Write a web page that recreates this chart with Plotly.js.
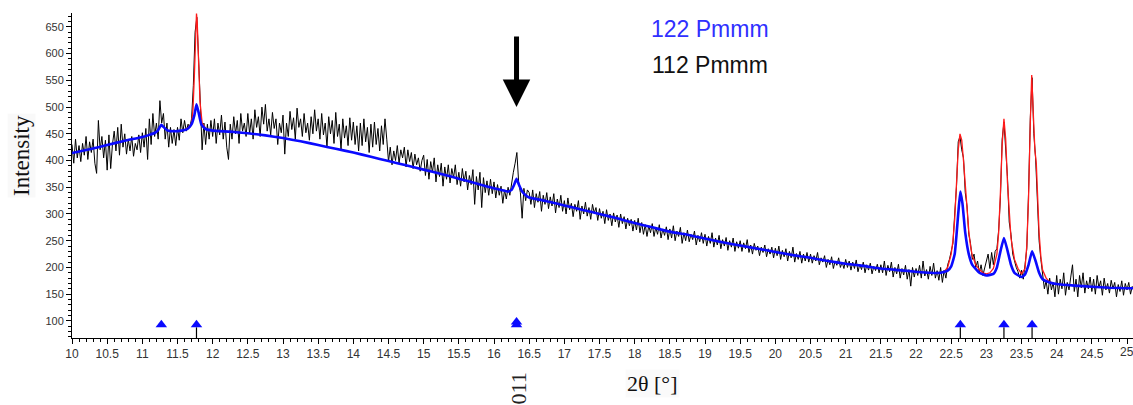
<!DOCTYPE html>
<html>
<head>
<meta charset="utf-8">
<script src="https://cdn.plot.ly/plotly-3.0.1.min.js"></script>
<style>html,body{margin:0;padding:0;background:#fff;}#chart{width:1133px;height:405px;}</style>
</head>
<body>
<div id="chart"></div>
<script>
// Observed pattern, sampled every 0.025 deg from 10.000
const obsStart = 10.0;
const obsStep = 0.025;
const obsIntensity = [
430,395,440,405,428,398,432,410,445,402,435,415,440,395,376,475,420,445,405,438,
382,448,385,430,455,418,462,410,468,425,450,412,440,418,445,408,432,420,448,415,
452,425,460,402,478,430,488,445,470,440,512,470,488,440,470,425,462,432,458,428,
462,438,478,452,475,455,468,462,478,540,640,668,590,505,420,470,430,468,440,475,
445,478,432,470,448,485,440,472,425,402,468,440,482,450,475,432,488,455,470,445,
488,450,478,440,495,462,482,445,500,468,505,455,478,448,490,460,478,430,470,452,
485,412,470,445,492,458,480,440,498,462,478,445,488,452,470,438,482,450,495,455,
478,440,488,448,470,425,482,450,475,432,490,445,468,420,478,442,465,428,480,438,
472,430,465,418,470,428,478,435,462,415,468,425,472,430,460,418,465,430,478,440,
398,425,392,418,400,428,395,420,405,425,388,420,398,415,385,412,392,405,380,400,
410,372,402,365,398,378,405,360,392,370,395,352,388,365,392,358,385,368,392,355,
378,352,385,360,380,345,372,355,383,318,370,345,378,312,368,340,362,335,365,338,
360,330,355,335,352,320,345,328,350,335,362,378,395,415,360,340,292,348,325,345,
340,318,345,312,338,322,342,305,335,318,340,310,332,315,338,302,328,312,335,305,
325,300,330,308,320,295,318,305,325,290,315,300,322,296,312,290,318,302,312,288,
310,292,305,282,308,288,300,278,302,285,298,275,300,282,295,272,292,278,290,268,
288,270,292,265,284,262,280,258,278,265,282,258,275,262,280,255,272,260,276,252,
272,255,278,250,268,258,275,245,265,250,270,248,262,252,268,242,260,248,265,245,
262,240,258,245,265,238,255,242,260,235,252,240,256,232,250,238,255,230,248,236,
250,230,246,235,252,228,242,225,245,232,240,222,238,228,242,220,235,225,238,218,
236,222,240,215,232,220,235,212,230,218,238,210,226,215,230,208,225,212,228,210,
225,208,222,212,228,205,218,210,222,200,215,205,220,198,212,204,218,200,210,198,
215,200,212,195,210,198,214,192,206,196,210,190,205,195,208,188,202,194,206,190,
205,190,212,185,204,192,210,182,200,188,206,180,198,186,204,178,196,165,200,182,
198,185,204,180,212,184,196,178,202,185,208,180,194,176,200,172,195,180,205,215,
230,245,300,350,435,445,420,405,340,315,262,245,215,225,200,212,190,205,185,200,
215,225,198,228,205,230,235,270,330,440,472,430,370,285,262,225,212,200,192,180,
195,178,205,235,340,480,555,450,405,340,250,215,185,160,175,150,180,158,172,145,
185,150,178,160,190,148,172,158,182,205,155,178,145,185,162,190,152,175,160,182,
155,178,150,185,162,175,148,180,158,170,152,176,160,172,145,168,155,175,148,170,
158,172,150,165
];

// Calculated profile, phase 122 Pmmm (blue)
const calcX = [10,10.25,10.5,10.75,11.0,11.1,11.18,11.22,11.25,11.27,11.3,11.35,11.4,11.5,11.6,11.65,11.7,11.74,11.77,11.8,11.84,11.9,
12.0,12.25,12.5,12.75,13.0,13.25,13.5,13.75,14.0,14.25,14.5,14.75,15.0,15.25,15.5,15.75,16.0,16.1,16.2,16.25,16.29,16.32,16.35,16.4,16.45,16.5,
16.75,17.0,17.25,17.5,17.75,18.0,18.25,18.5,18.75,19.0,19.25,19.5,19.75,20.0,20.25,20.5,20.75,21.0,21.25,21.5,21.75,22.0,22.2,22.35,22.45,
22.5,22.55,22.6,22.63,22.66,22.7,22.75,22.8,22.9,23.0,23.1,23.15,23.2,23.25,23.3,23.35,23.4,23.5,23.55,23.6,23.65,23.7,23.75,23.8,23.9,
24.0,24.25,24.5,24.75,25.0,25.085];
const calcBlue = [414,421,429,437,444,448,452,456,463,467,463,457,455,455,457,460,468,485,505,490,467,459,
456,454,451,447,442,436,429,422,415,407,399,391,383,375,366,357,348,345,342,345,356,366,356,342,335,331,
324,316,308,300,292,283,275,267,261,254,247,241,235,229,223,218,212,207,203,198,195,192,190,190,194,
202,225,300,342,320,265,225,205,190,185,188,200,230,255,232,205,190,182,187,205,230,212,190,178,172,
169,166,164,162,161,161];

// Calculated total profile (red), shown where it departs from the blue one
const totalX = [11.6,11.65,11.7,11.72,11.74,11.76,11.77,11.78,11.8,11.82,11.85,11.9,11.95,null,
22.4,22.45,22.5,22.525,22.55,22.575,22.6,22.625,22.65,22.675,22.7,22.725,22.75,22.775,22.8,22.85,22.9,22.95,
23.0,23.05,23.1,23.15,23.175,23.2,23.225,23.25,23.275,23.3,23.325,23.35,23.4,23.45,
23.5,23.55,23.575,23.6,23.625,23.645,23.67,23.69,23.71,23.73,23.75,23.775,23.8,23.85,23.9,24.0];
const totalRed = [458,461,470,495,560,650,675,660,580,510,470,460,457,null,
192,200,225,250,290,355,420,450,438,400,350,305,268,240,222,205,196,190,
188,190,198,225,265,340,430,478,440,360,295,255,215,198,
188,198,240,330,470,560,480,420,395,330,265,220,195,180,173,168];

// Reflection positions
const reflX = [11.27,11.77,16.32,16.32,22.63,23.25,23.65];
const reflY = [93,93,93,98,93,93,93];
const stickX = [11.77,22.63,23.25,23.65];
const stickTop = 88;

const legendLabels = ['122 Pmmm','112 Pmmm'];
const yTickVals = [100,150,200,250,300,350,400,450,500,550,600,650];

const obsX = obsIntensity.map((_, i) => +(obsStart + i * obsStep).toFixed(3));
const sx = [], sy = [];
stickX.forEach(v => { sx.push(v, v, null); sy.push(60, stickTop, null); });

const traces = [
  {x: obsX, y: obsIntensity, type: 'scatter', mode: 'lines', line: {color: '#000', width: 1}, hoverinfo: 'skip'},
  {x: totalX, y: totalRed, type: 'scatter', mode: 'lines', line: {color: '#ff1a1a', width: 1.3}, connectgaps: false},
  {x: calcX, y: calcBlue, type: 'scatter', mode: 'lines', line: {color: '#0a0aff', width: 2.6, shape: 'spline', smoothing: 0.4}},
  {x: sx, y: sy, type: 'scatter', mode: 'lines', line: {color: '#000', width: 1.2}},
  {x: reflX, y: reflY, type: 'scatter', mode: 'markers', marker: {symbol: 'triangle-up', size: 10, color: '#0a0aff'}}
];

const xTickFont = {family: 'Arial, Liberation Sans, sans-serif', size: 12, color: '#333'};
const yTickFont = {family: 'Arial, Liberation Sans, sans-serif', size: 11, color: '#333'};
const serif = 'Liberation Serif, Times New Roman, serif';
const layout = {
  width: 1133, height: 405,
  margin: {l: 72, r: 0, t: 13, b: 67},
  paper_bgcolor: '#fff', plot_bgcolor: '#fff',
  showlegend: false,
  xaxis: {
    range: [10, 25.085], dtick: 0.5, tick0: 10, ticks: 'outside', ticklen: 5, tickcolor: '#000',
    showline: true, linecolor: '#000', linewidth: 1, showgrid: false, zeroline: false,
    tickfont: xTickFont,
    minor: {dtick: 0.1, ticks: 'outside', ticklen: 3, tickcolor: '#000', showgrid: false}
  },
  yaxis: {
    range: [68, 676], tickvals: yTickVals, ticks: 'outside', ticklen: 5, tickcolor: '#000',
    showline: true, linecolor: '#000', linewidth: 1, showgrid: false, zeroline: false,
    tickfont: yTickFont,
    minor: {dtick: 10, tick0: 0, ticks: 'outside', ticklen: 3, tickcolor: '#000', showgrid: false}
  },
  annotations: [
    {xref: 'paper', yref: 'paper', x: 0.6015, y: 0.952, xanchor: 'center', yanchor: 'middle', text: legendLabels[0], showarrow: false,
     font: {family: 'Arial, Liberation Sans, sans-serif', size: 23, color: '#3030ff'}},
    {xref: 'paper', yref: 'paper', x: 0.6015, y: 0.8415, xanchor: 'center', yanchor: 'middle', text: legendLabels[1], showarrow: false,
     font: {family: 'Arial, Liberation Sans, sans-serif', size: 23, color: '#111'}},
    {xref: 'paper', yref: 'paper', x: -0.0471, y: 0.56, xanchor: 'center', yanchor: 'middle', text: 'Intensity', showarrow: false, textangle: -90,
     bgcolor: 'rgba(0,0,0,0.025)', font: {family: serif, size: 23, color: '#111'}},
    {xref: 'paper', yref: 'paper', x: 0.5467, y: -0.1385, xanchor: 'center', yanchor: 'middle', text: '2θ [°]', showarrow: false,
     bgcolor: 'rgba(0,0,0,0.02)', font: {family: serif, size: 22, color: '#111'}},
    {xref: 'paper', yref: 'paper', x: 0.4204, y: -0.1554, xanchor: 'center', yanchor: 'middle', text: '011', showarrow: false, textangle: -90,
     font: {family: serif, size: 22, color: '#222'}},
    {xref: 'x', yref: 'paper', x: 25, y: -0.0431, xanchor: 'center', yanchor: 'middle', text: '25', showarrow: false,
     font: xTickFont},
    {xref: 'x', yref: 'y', x: 16.32, y: 500, ax: 0, ay: -72, text: '', showarrow: true,
     arrowhead: 2, arrowwidth: 5, arrowsize: 1.1, arrowcolor: '#000', standoff: 0}
  ]
};

Plotly.newPlot('chart', traces, layout, {displayModeBar: false, staticPlot: true});
</script>
</body>
</html>
